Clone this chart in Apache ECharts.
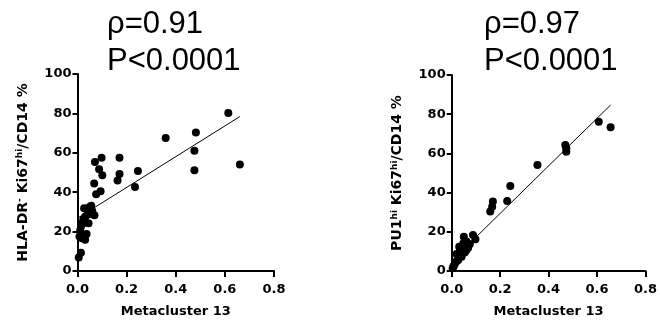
<!DOCTYPE html>
<html>
<head>
<meta charset="utf-8">
<script src="https://cdn.jsdelivr.net/npm/echarts@6/dist/echarts.min.js"></script>
<style>
  html, body { margin: 0; padding: 0; background: #fff; }
  #chart { width: 660px; height: 325px; }
</style>
</head>
<body>
<div id="chart"></div>
<script>
// left panel: HLA-DR- Ki67hi vs metacluster 13
var leftX = [0.614, 0.661, 0.482, 0.476, 0.476, 0.359, 0.246, 0.234, 0.171, 0.171, 0.163,
  0.098, 0.071, 0.088, 0.101, 0.068, 0.094, 0.076, 0.056, 0.035, 0.069, 0.052, 0.031,
  0.045, 0.024, 0.018, 0.014, 0.037, 0.031, 0.018, 0.008, 0.014, 0.005, 0.011, 0.030,
  0.040, 0.060, 0.027, 0.051];
var leftY = [80.2, 54.1, 70.3, 61.0, 51.2, 67.5, 50.8, 42.7, 57.5, 49.3, 45.9,
  57.5, 55.3, 51.7, 48.6, 44.4, 40.5, 39.0, 33.1, 31.7, 28.3, 29.0, 27.6,
  24.2, 26.3, 24.2, 22.5, 18.8, 15.8, 16.6, 17.5, 9.3, 6.9, 20.5, 24.5,
  28.5, 30.5, 31.8, 32.6];
var leftFitX = [0.005, 0.661];
var leftFitY = [27.2, 78.4];

// right panel: PU1hi Ki67hi vs metacluster 13
var rightX = [0.607, 0.656, 0.469, 0.473, 0.473, 0.354, 0.242, 0.229, 0.170, 0.167, 0.159,
  0.088, 0.098, 0.050, 0.061, 0.048, 0.068, 0.034, 0.054, 0.020, 0.041, 0.027, 0.014,
  0.004, 0.007, 0.061, 0.031, 0.075, 0.045, 0.010, 0.020];
var rightY = [76.2, 73.3, 64.3, 62.6, 60.9, 54.1, 43.4, 35.7, 35.4, 32.8, 30.3,
  18.4, 16.2, 17.5, 15.0, 14.1, 11.9, 9.9, 9.4, 8.7, 7.3, 5.6, 3.9,
  1.4, 2.2, 10.7, 12.4, 13.8, 11.5, 3.0, 5.0];
var rightFitX = [0.004, 0.656];
var rightFitY = [5.6, 84.7];

var leftTitle = 'ρ=0.91\nP<0.0001';
var rightTitle = 'ρ=0.97\nP<0.0001';
var xName = 'Metacluster 13';
var leftYName = '{n|HLA-DR}{s|-}{n| Ki67}{s|hi}{n|/CD14 %}';
var rightYName = '{n|PU1}{s|hi}{n| Ki67}{s|hi}{n|/CD14 %}';

function pairs(xs, ys) {
  var res = [];
  for (var i = 0; i < xs.length; i++) {
    res.push([xs[i], ys[i]]);
  }
  return res;
}

var labelFont = {
  color: '#000',
  fontFamily: 'DejaVu Sans',
  fontWeight: 'bold',
  fontSize: 13
};

function makeX(idx) {
  return {
    gridIndex: idx,
    type: 'value',
    min: 0, max: 0.8, interval: 0.2,
    name: xName,
    nameLocation: 'middle',
    nameGap: 34,
    nameTextStyle: labelFont,
    splitLine: { show: false },
    axisLine: { onZero: false, lineStyle: { color: '#000', width: 2 } },
    axisTick: { length: 6, lineStyle: { color: '#000', width: 2 } },
    axisLabel: Object.assign({ margin: 12, formatter: function (v) { return v.toFixed(1); } }, labelFont)
  };
}

function makeY(idx, name) {
  return {
    gridIndex: idx,
    type: 'value',
    min: 0, max: 100, interval: 20,
    name: name,
    nameLocation: 'middle',
    nameGap: 46,
    nameTextStyle: {
      rich: {
        n: { color: '#000', fontFamily: 'DejaVu Sans', fontWeight: 'bold', fontSize: 14, lineHeight: 16 },
        s: { color: '#000', fontFamily: 'DejaVu Sans', fontWeight: 'bold', fontSize: 9, lineHeight: 10, verticalAlign: 'top' }
      }
    },
    splitLine: { show: false },
    axisLine: { onZero: false, lineStyle: { color: '#000', width: 2 } },
    axisTick: { length: 5, lineStyle: { color: '#000', width: 2 } },
    axisLabel: Object.assign({ margin: 6 }, labelFont)
  };
}

var titleStyle = {
  color: '#000',
  fontFamily: 'Liberation Sans',
  fontWeight: 'normal',
  fontSize: 31,
  lineHeight: 37
};

var myChart = echarts.init(document.getElementById('chart'), null, { renderer: 'canvas' });
var option = {
  animation: false,
  backgroundColor: '#fff',
  title: [
    { text: leftTitle, left: 107, top: 6, padding: 0, textStyle: titleStyle },
    { text: rightTitle, left: 484, top: 6, padding: 0, textStyle: titleStyle }
  ],
  grid: [
    { left: 77.5, top: 74, width: 196.5, height: 197 },
    { left: 451.7, top: 75, width: 196, height: 196 }
  ],
  xAxis: [makeX(0), makeX(1)],
  yAxis: [makeY(0, leftYName), makeY(1, rightYName)],
  series: [
    {
      type: 'line', xAxisIndex: 0, yAxisIndex: 0,
      data: pairs(leftFitX, leftFitY),
      showSymbol: false, silent: true,
      lineStyle: { color: '#000', width: 1 }
    },
    {
      type: 'scatter', xAxisIndex: 0, yAxisIndex: 0,
      data: pairs(leftX, leftY),
      symbolSize: 8,
      itemStyle: { color: '#000', opacity: 1 }
    },
    {
      type: 'line', xAxisIndex: 1, yAxisIndex: 1,
      data: pairs(rightFitX, rightFitY),
      showSymbol: false, silent: true,
      lineStyle: { color: '#000', width: 1 }
    },
    {
      type: 'scatter', xAxisIndex: 1, yAxisIndex: 1,
      data: pairs(rightX, rightY),
      symbolSize: 8,
      itemStyle: { color: '#000', opacity: 1 }
    }
  ]
};
myChart.setOption(option);
</script>
</body>
</html>
